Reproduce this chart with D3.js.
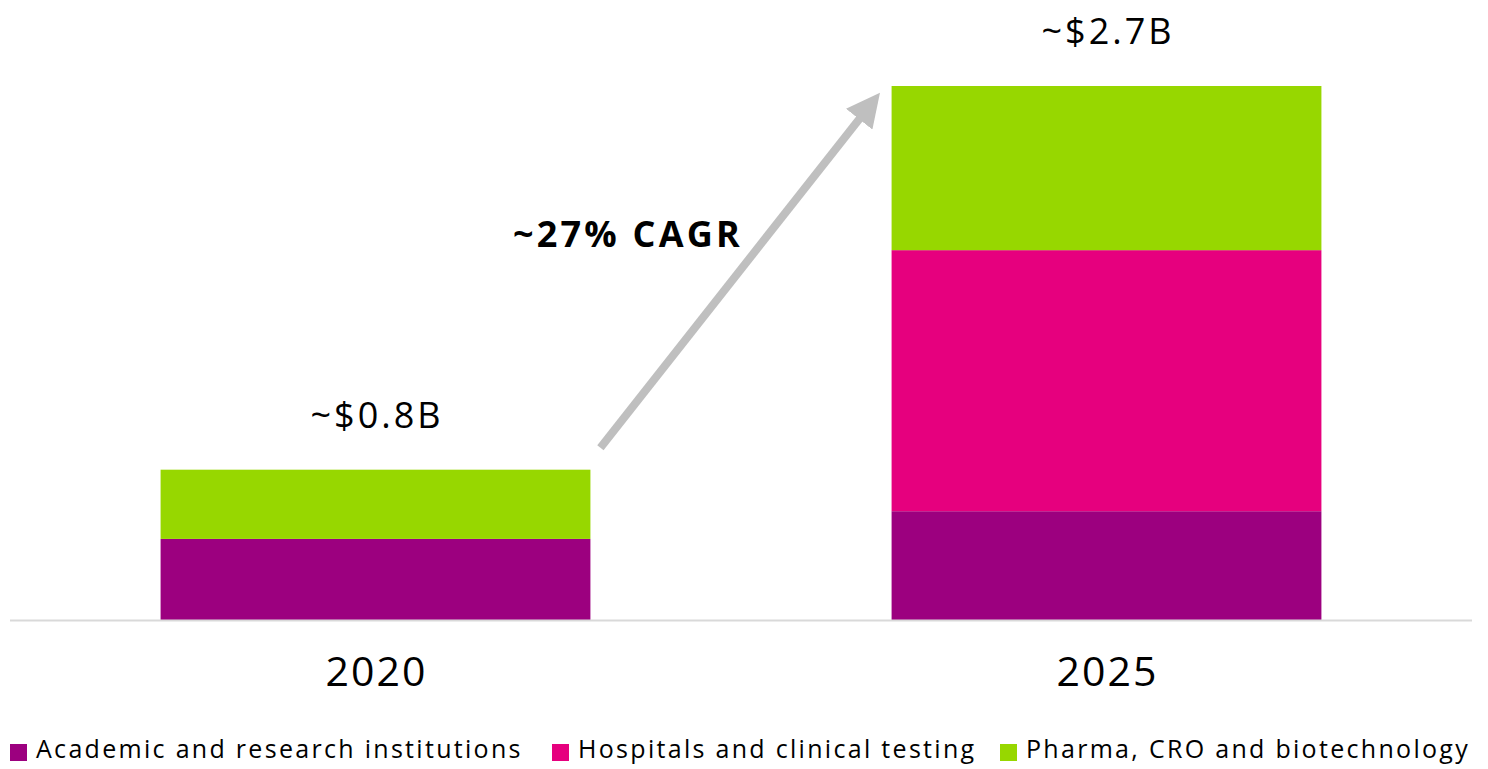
<!DOCTYPE html>
<html>
<head>
<meta charset="utf-8">
<script src="https://cdn.jsdelivr.net/npm/d3@7"></script>
<style>
  body { margin: 0; background: #fff; }
  svg { display: block; font-family: "Open Sans", Lato, sans-serif; }
</style>
</head>
<body>
<svg id="chart" width="1488" height="769"></svg>
<script>
const years = ["2020", "2025"];
const seriesNames = ["Academic and research institutions", "Hospitals and clinical testing", "Pharma, CRO and biotechnology"];
const academic = [0.41, 0.55];
const hospitals = [0, 1.32];
const pharma = [0.35, 0.83];
const totalLabels = ["~$0.8B", "~$2.7B"];
const cagrLabel = "~27% CAGR";
const colors = ["#9c007f", "#e6007e", "#97d700"];

const svg = d3.select("#chart"),
  W = +svg.attr("width"),
  H = +svg.attr("height");

const rows = years.map((y, i) => ({ year: y, a: academic[i], h: hospitals[i], p: pharma[i] }));
const stack = d3.stack().keys(["a", "h", "p"])(rows);

const x = d3.scaleBand().domain(years).range([10, 1472]).paddingInner(0.412).paddingOuter(0.206);
const y = d3.scaleLinear().domain([0, 2.7]).range([620, 86]);

// bars
svg.append("g").selectAll("g").data(stack).enter().append("g")
  .attr("fill", (d, i) => colors[i])
  .selectAll("rect").data(d => d).enter().append("rect")
  .attr("x", d => x(d.data.year))
  .attr("y", d => y(d[1]))
  .attr("width", x.bandwidth())
  .attr("height", d => y(d[0]) - y(d[1]));

// baseline
svg.append("line").attr("x1", 10).attr("x2", 1472).attr("y1", 620.5).attr("y2", 620.5)
  .attr("stroke", "#d9d9d9").attr("stroke-width", 2);

// category labels
const xAxis = svg.append("g").attr("transform", "translate(0,620)")
  .call(d3.axisBottom(x).tickSize(0).tickPadding(37));
xAxis.select(".domain").remove();
xAxis.selectAll("text").attr("font-size", 41).attr("font-family", "'Open Sans', sans-serif")
  .attr("fill", "#000").attr("letter-spacing", 2).attr("dx", 1);

// totals
const totals = rows.map(r => r.a + r.h + r.p);
svg.selectAll(".total").data(years).enter().append("text")
  .attr("x", d => x(d) + x.bandwidth() / 2 + 1.5)
  .attr("y", (d, i) => y(totals[i]) - 42)
  .attr("text-anchor", "middle").attr("font-size", 36).attr("letter-spacing", 3).attr("fill", "#000")
  .text((d, i) => totalLabels[i]);

// arrow
svg.append("defs").append("marker").attr("id", "ah")
  .attr("viewBox", "0 0 10 10").attr("refX", 5).attr("refY", 5)
  .attr("markerWidth", 4.2).attr("markerHeight", 4.2).attr("orient", "auto")
  .append("path").attr("d", "M0,0 L10,5 L0,10 Z").attr("fill", "#bfbfbf");
const x0 = x("2020") + x.bandwidth() + 10, y0 = y(totals[0]) - 22;
const x1 = x("2025") - 22, y1 = y(totals[1]) + 20;
svg.append("line").attr("x1", x0).attr("y1", y0).attr("x2", x1).attr("y2", y1)
  .attr("stroke", "#bfbfbf").attr("stroke-width", 8).attr("marker-end", "url(#ah)");

svg.append("text").attr("x", 628).attr("y", 247).attr("text-anchor", "middle")
  .attr("font-size", 36).attr("font-weight", "bold").attr("letter-spacing", 3.2)
  .attr("fill", "#000").text(cagrLabel);

// legend
const legX = [10, 552, 1000];
const leg = svg.append("g").selectAll("g").data(seriesNames).enter().append("g")
  .attr("transform", (d, i) => `translate(${legX[i]},744)`);
leg.append("rect").attr("width", 17).attr("height", 17).attr("fill", (d, i) => colors[i]);
leg.append("text").attr("x", 26).attr("y", 14).attr("font-size", 25).attr("letter-spacing", 2.3)
  .attr("fill", "#000").text(d => d);
</script>
</body>
</html>
